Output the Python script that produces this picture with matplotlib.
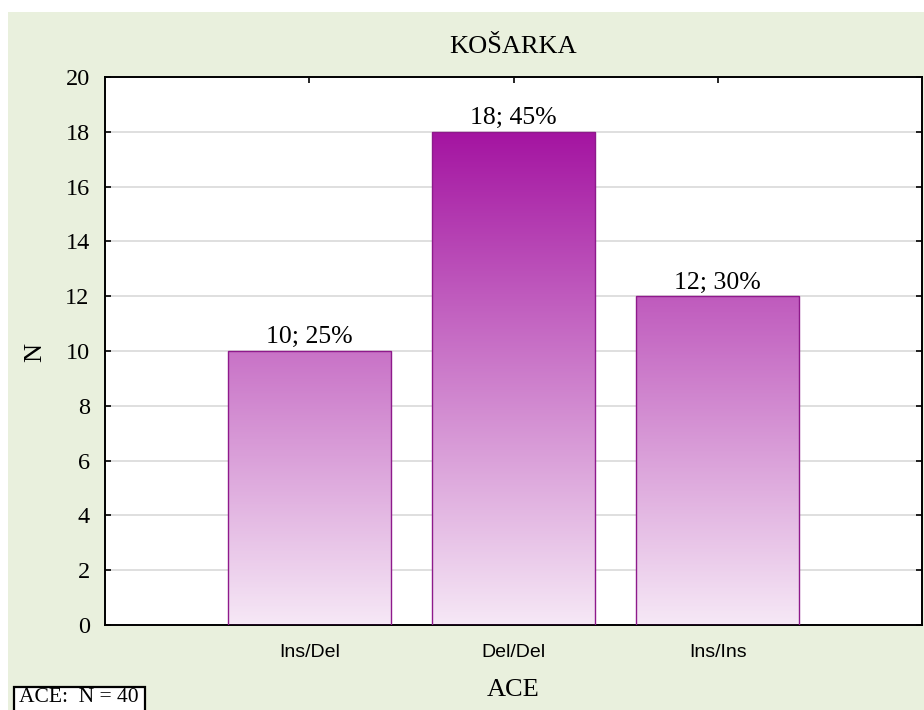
import numpy as np
import matplotlib
matplotlib.use('Agg')
import matplotlib.pyplot as plt
from matplotlib.colors import LinearSegmentedColormap, Normalize
from matplotlib.patches import Rectangle

# data
categories = ['Ins/Del', 'Del/Del', 'Ins/Ins']
counts = [10, 18, 12]
title = 'KOŠARKA'
xlabel = 'ACE'
ylabel = 'N'
yticks = [0, 2, 4, 6, 8, 10, 12, 14, 16, 18, 20]

total = sum(counts)
serif = ['Liberation Serif', 'DejaVu Serif']
narrow = ['Liberation Sans Narrow', 'Liberation Sans', 'DejaVu Sans']

fig = plt.figure(figsize=(9.24, 7.10), dpi=100)
fig.patch.set_facecolor('white')

# green panel behind everything
fig.patches.append(Rectangle((8 / 924, 0), 1, (710 - 12) / 710, transform=fig.transFigure,
                             facecolor='#E9F0DD', edgecolor='none', zorder=-5))

ax = fig.add_axes([105 / 924, 85 / 710, 817 / 924, 548 / 710])
ax.set_zorder(2)
ax.set_facecolor('white')

cmap = LinearSegmentedColormap.from_list('purp', ['#F6E8F6', '#A414A1'])
norm = Normalize(vmin=0, vmax=max(counts))

x = np.arange(len(categories))
w = 0.8
bars = ax.bar(x, counts, width=w, facecolor='none', edgecolor='#8E1A8B', linewidth=1.0, zorder=3)
for xi, c, b in zip(x, counts, bars):
    grad = np.linspace(0, c, 256).reshape(-1, 1)
    im = ax.imshow(grad, cmap=cmap, norm=norm, origin='lower', aspect='auto',
                   extent=(xi - w / 2, xi + w / 2, 0, c), zorder=2, interpolation='bilinear')
    im.set_clip_path(b)
    ax.text(xi, c + 0.1, f'{c}; {round(100 * c / total)}%', ha='center', va='bottom',
            fontsize=18.5, family=serif)

ax.set_xlim(-1, 3)
ax.set_ylim(0, 20)
ax.set_yticks(yticks)
ax.set_xticks(x)
ax.set_xticklabels(categories, family=narrow, fontsize=14)
for lab in ax.get_yticklabels():
    lab.set_family(serif)
    lab.set_fontsize(17.5)
ax.tick_params(axis='both', direction='in', top=True, right=True, length=4, width=1.2)
ax.tick_params(axis='x', pad=14)
ax.tick_params(axis='y', pad=11)
ax.yaxis.grid(True, color='#D9D9D9', linewidth=1.2, zorder=1)
ax.set_axisbelow(True)
for s in ax.spines.values():
    s.set_linewidth(1.4)

fig.text(513 / 924, 1 - 47 / 710, title, ha='center', va='center', fontsize=19, family=serif)
fig.text(513 / 924, 1 - 690 / 710, xlabel, ha='center', va='center', fontsize=19, family=serif)
fig.text(35 / 924, 1 - 352 / 710, ylabel, ha='center', va='center', rotation=90,
         fontsize=19, family=serif)

# N box in the corner, its frame runs off the bottom edge like the original
fig.patches.append(Rectangle((14 / 924, -5 / 710), 131 / 924, 28 / 710, transform=fig.transFigure,
                             facecolor='white', edgecolor='black', linewidth=1.6, zorder=3))
fig.text(79 / 924, 1 - 698 / 710, 'ACE:  N = 40', ha='center', va='center', fontsize=15.5,
         family=serif, zorder=4)

fig.savefig('out.png', dpi=100)
